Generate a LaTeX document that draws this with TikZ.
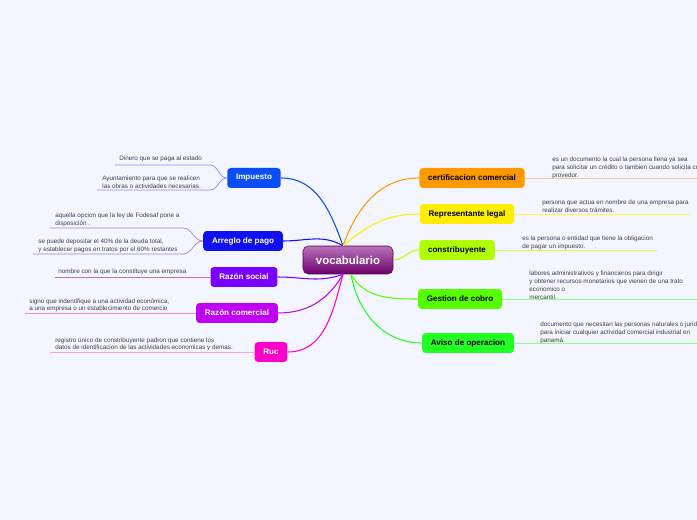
\documentclass[tikz,border=0pt]{standalone}
\usepackage{fontspec}
\setmainfont{Liberation Sans}
\usetikzlibrary{positioning}
\definecolor{bgc}{HTML}{F3F6FE}
\tikzset{
  topic/.style={rounded corners=2pt, minimum height=0.4cm, inner xsep=5pt, font=\fontsize{4.6}{6}\selectfont\bfseries},
  leaf/.style={anchor=north west, align=left, font=\fontsize{3.6}{4.5}\selectfont, text=black!75, inner sep=0pt},
  branch/.style={line width=0.6pt},
  twig/.style={line width=0.4pt},
}
\begin{document}
\begin{tikzpicture}[x=0.02cm,y=-0.02cm]
    \fill[bgc] (0,0) rectangle (697,520);
    \clip (0,0) rectangle (697,520);

    % Central topic
    \node[rounded corners=3pt, minimum width=1.8cm, minimum height=0.56cm, draw=violet!60!black, line width=0.3pt,
      top color=violet!55, bottom color=violet!85!black, text=white, font=\fontsize{6.5}{8}\selectfont\bfseries]
      (vocab) at (348,260) {vocabulario};

    % Left topics
    \node[topic, fill={rgb,255:red,10;green,76;blue,245}, text=white] (imp) at (254,178) {Impuesto};
    \node[topic, fill={rgb,255:red,16;green,16;blue,240}, text=white] (arr) at (243,241) {Arreglo de pago};
    \node[topic, fill={rgb,255:red,122;green,0;blue,255}, text=white] (rsoc) at (244,277) {Razón social};
    \node[topic, fill={rgb,255:red,192;green,0;blue,240}, text=white] (rcom) at (237,313) {Razón comercial};
    \node[topic, fill={rgb,255:red,255;green,0;blue,200}, text=white] (ruc) at (271,352) {Ruc};

    % Right topics
    \node[topic, fill={rgb,255:red,255;green,153;blue,0}] (cert) at (472,178) {certificacion comercial};
    \node[topic, fill={rgb,255:red,255;green,238;blue,0}] (rep) at (467,214) {Representante legal};
    \node[topic, fill={rgb,255:red,176;green,255;blue,0}] (contr) at (457,250) {constribuyente};
    \node[topic, fill={rgb,255:red,85;green,255;blue,0}] (cobro) at (460,299) {Gestion de cobro};
    \node[topic, fill={rgb,255:red,34;green,255;blue,34}] (aviso) at (468,343) {Aviso de operacion};

    % Branches
    \draw[branch, color={rgb,255:red,10;green,76;blue,245}] (vocab.north) ++(-5,0) coordinate (c1) to[out=110,in=0] (imp.east);
    \draw[branch, color={rgb,255:red,16;green,16;blue,240}] (c1) to[out=150,in=0] (arr.east);
    \draw[branch, color={rgb,255:red,122;green,0;blue,255}] (vocab.south) ++(-5,0) coordinate (c2) to[out=200,in=0] (rsoc.east);
    \draw[branch, color={rgb,255:red,192;green,0;blue,240}] (c2) to[out=240,in=0] (rcom.east);
    \draw[branch, color={rgb,255:red,255;green,0;blue,200}] (c2) to[out=255,in=0] (ruc.east);
    \draw[branch, color={rgb,255:red,255;green,153;blue,0}] (c1) to[out=70,in=180] (cert.west);
    \draw[branch, color={rgb,255:red,255;green,238;blue,0}] (c1) to[out=40,in=180] (rep.west);
    \draw[branch, color={rgb,255:red,176;green,255;blue,0}] (vocab.east) to[out=0,in=180] (contr.west);
    \draw[branch, color={rgb,255:red,85;green,255;blue,0}] (c2) ++(8,0) coordinate (c3) to[out=-60,in=180] (cobro.west);
    \draw[branch, color={rgb,255:red,34;green,255;blue,34}] (c3) to[out=-80,in=180] (aviso.west);

    % Leaves of Impuesto
    \coordinate (i1) at (210,165); \coordinate (i2) at (210,190);
    \draw[twig, blue!45] (imp.west) to[out=180,in=0] (i1) -- (115,165);
    \draw[twig, blue!45] (imp.west) to[out=180,in=0] (i2) -- (97,190);
    \node[leaf] (imp1) at (119,156) {Dinero que se paga al estado};
    \node[leaf] (imp2) at (102,176) {Ayuntamiento para que se realicen\\las obras o actividades necesarias.};

    % Leaves of Arreglo de pago
    \coordinate (a1) at (183,228); \coordinate (a2) at (183,254);
    \draw[twig, blue!40!violet!50] (arr.west) to[out=180,in=0] (a1) -- (50,228);
    \draw[twig, blue!40!violet!50] (arr.west) to[out=180,in=0] (a2) -- (33,254);
    \node[leaf] (arr1) at (55,213) {aquella opcion que la ley de Fodesaf pone a\\disposición .};
    \node[leaf] (arr2) at (38,239) {se puede depositar el 40\% de la deuda total,\\y establecer pagos en tratos por el 60\% restantes};

    % Other left leaves
    \draw[twig, violet!55] (rsoc.west) -- (55,277);
    \node[leaf] (rsoc1) at (58,269) {nombre con la que la constituye una empresa};
    \draw[twig, magenta!45] (rcom.west) -- (25,313);
    \node[leaf] (rcom1) at (29,298) {signo que indentifique a una actividad económica,\\a una empresa o un establecimiento de comercio};
    \draw[twig, magenta!35] (ruc.west) -- (50,352);
    \node[leaf] (ruc1) at (55,337) {registro único de constribuyente padron que contiene los\\datos de identificacion de las actividades economicas y demas.};

    % Right leaves
    \draw[twig, orange!45] (cert.east) -- (697,178);
    \node[leaf] (cert1) at (552,157) {es un documento la cual la persona llena ya sea\\para solicitar un crédito o tambien cuando solicita credito a un\\provedor.};
    \draw[twig, yellow!70] (rep.east) -- (690,214);
    \node[leaf] (rep1) at (542,200) {persona que actua en nombre de una empresa para\\realizar diversos trámites.};
    \draw[twig, lime!70] (contr.east) -- (657,250);
    \node[leaf] (contr1) at (522,236) {es la persona o entidad que tiene la obligacion\\de pagar un impuesto.};
    \draw[twig, green!45] (cobro.east) -- (697,299);
    \node[leaf] (cobro1) at (529,271) {labores administrativos y financieros para dirigir\\y obtener recursos monetarios que vienen de una trato\\economico o\\mercantil.};
    \draw[twig, green!45] (aviso.east) -- (697,343);
    \node[leaf] (aviso1) at (540,322) {documento que necesitan las personas naturales o juridicas\\para iniciar cualquier actividad comercial industrial en\\panamá.};
\end{tikzpicture}
\end{document}
